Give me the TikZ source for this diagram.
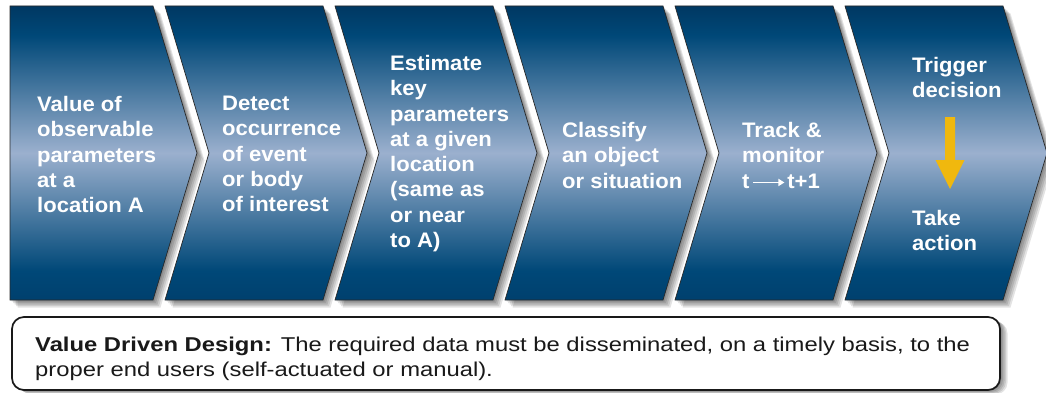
\documentclass[tikz,border=0pt]{standalone}
\usepackage{fontspec}
\setmainfont{Liberation Sans}
\newfontfamily\chevfont[FakeStretch=1.05]{Liberation Sans}
\newfontfamily\boxfont[FakeStretch=1.19]{Liberation Sans}
\usetikzlibrary{arrows.meta}
\definecolor{navytop}{RGB}{0,56,98}
\definecolor{navyq}{RGB}{0,72,120}
\definecolor{navymid}{RGB}{155,176,206}
\definecolor{navybot}{RGB}{0,64,110}
\definecolor{arrowgold}{RGB}{240,184,14}
\definecolor{edgegray}{RGB}{40,40,40}
\pgfdeclareverticalshading{chevshade}{100bp}{color(0bp)=(navybot); color(25bp)=(navybot); color(30bp)=(navyq); color(50bp)=(navymid); color(70bp)=(navyq); color(75bp)=(navytop); color(100bp)=(navytop)}
\newcommand\tarrow{\tikz[baseline=-0.5ex]\draw[white, line width=1.8pt, -{Triangle[length=6pt,width=7pt]}] (0pt,0pt) -- (31pt,0pt);}
\begin{document}
\begin{tikzpicture}[x=1pt,y=1pt,
  chevtext/.style={anchor=north west, inner sep=0pt, text=white, align=left,
    font=\chevfont\bfseries\fontsize{21}{25.3}\selectfont},
  chevron/.style={draw=edgegray, line width=0.7pt, shading=chevshade},
  shadowfill/.style={fill=black, fill opacity=0.11, draw=none},
  boxtext/.style={anchor=north west, inner sep=0pt, align=left, text=black!90,
    font=\boxfont\fontsize{20}{25}\selectfont}]
\useasboundingbox (0,0) rectangle (1046,392);
\fill[white] (0,0) rectangle (1046,392);

% soft shadows
\foreach \s in {1.5,3,4.5,6,7.5}{
  \fill[shadowfill, shift={(\s,-\s)}] (10,386) -- (153,386) -- (197,239) -- (153,92) -- (10,92) -- cycle;
  \foreach \L/\R in {165/323,335/493,505/663,675/833,845/1003}{
    \fill[shadowfill, shift={(\s,-\s)}] (\L,386) -- (\R,386) -- ({\R+44},239) -- (\R,92) -- (\L,92) -- ({\L+44},239) -- cycle;
  }
}
\foreach \s in {1.5,3,4.5,6,7.5}{
  \fill[shadowfill, rounded corners=12pt, shift={(\s,-0.6*\s)}] (12,2) rectangle (1000,75);
}

% chevrons
\shadedraw[chevron] (10,386) -- (153,386) -- (197,239) -- (153,92) -- (10,92) -- cycle;
\foreach \L/\R in {165/323,335/493,505/663,675/833,845/1003}{
  \shadedraw[chevron] (\L,386) -- (\R,386) -- ({\R+44},239) -- (\R,92) -- (\L,92) -- ({\L+44},239) -- cycle;
}

% texts
\node[chevtext] (t1) at (37,296) {Value of\\observable\\parameters\\at a\\location A};
\node[chevtext] (t2) at (222,296) {Detect\\occurrence\\of event\\or body\\of interest};
\node[chevtext] (t3) at (390,337) {Estimate\\key\\parameters\\at a given\\location\\(same as\\or near\\to A)};
\node[chevtext] (t4) at (562,270) {Classify\\an object\\or situation};
\node[chevtext] (t5) at (742,270) {Track \&\\monitor\\t\hspace{3pt}\tarrow\hspace{2pt}t+1};
\node[chevtext] (t6a) at (912,335) {Trigger\\decision};
\node[chevtext] (t6b) at (912,182) {Take\\action};

% gold down arrow
\fill[arrowgold] (945,275) -- (955,275) -- (955,232) -- (964.5,232) -- (950,203) -- (935.5,232) -- (945,232) -- cycle;

% bottom box
\draw[line width=1.7pt, draw=black!90, fill=white, rounded corners=12pt] (12,2) rectangle (1000,75);
\node[boxtext] (bt) at (35,55) {\textbf{Value Driven Design:} The required data must be disseminated, on a timely basis, to the\\proper end users (self-actuated or manual).};
\end{tikzpicture}
\end{document}
